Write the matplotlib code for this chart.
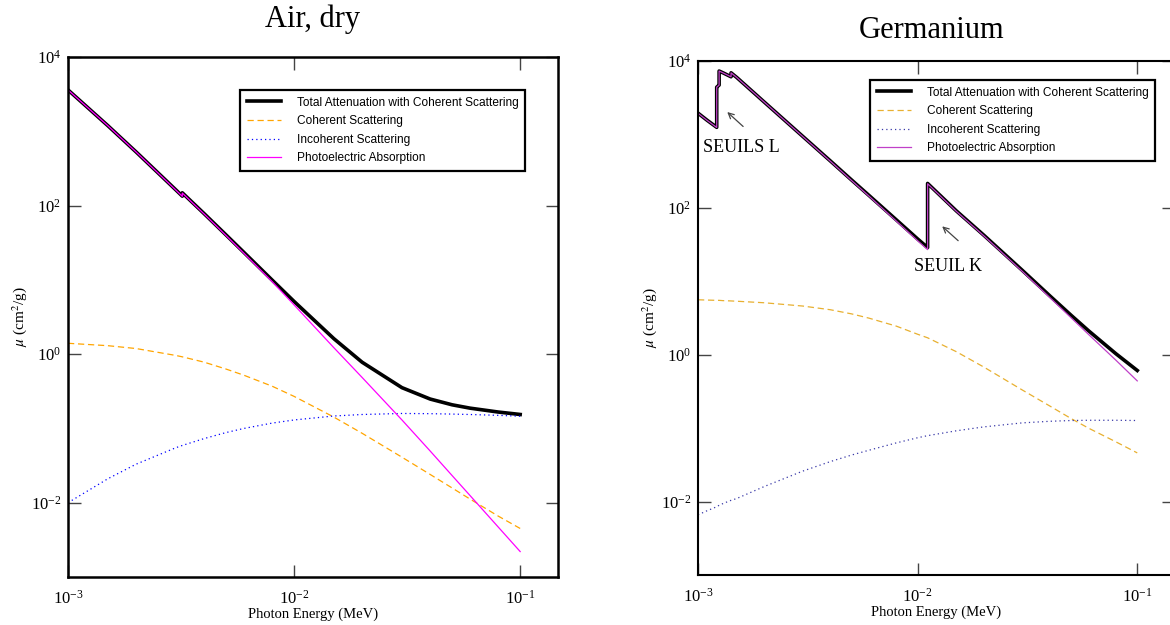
import numpy as np
import matplotlib
matplotlib.use('Agg')
from matplotlib import pyplot as plt
from matplotlib.ticker import NullLocator

# ---- Air, dry (cm2/g) ----
air_e = [1.0e-3, 1.5e-3, 2.0e-3, 3.0e-3, 3.2029e-3, 3.2029e-3, 4.0e-3, 5.0e-3, 6.0e-3, 8.0e-3,
         1.0e-2, 1.5e-2, 2.0e-2, 3.0e-2, 4.0e-2, 5.0e-2, 6.0e-2, 8.0e-2, 1.0e-1]
air_total = [3606, 1191, 527.9, 162.5, 134.0, 148.5, 77.88, 40.27, 23.41, 9.921,
             5.120, 1.614, 0.7779, 0.3538, 0.2485, 0.2080, 0.1875, 0.1662, 0.1541]
air_coh = [1.40, 1.30, 1.19, 0.96, 0.92, 0.92, 0.78, 0.63, 0.52, 0.37,
           0.27, 0.142, 0.086, 0.041, 0.024, 0.0158, 0.0112, 0.0066, 0.0045]
air_incoh = [0.0100, 0.021, 0.033, 0.055, 0.059, 0.059, 0.073, 0.088, 0.100, 0.118,
             0.130, 0.147, 0.154, 0.159, 0.158, 0.156, 0.154, 0.150, 0.146]
air_photo = [3605, 1190, 526.7, 161.5, 133.0, 147.5, 77.05, 39.57, 22.8, 9.46,
             4.60, 1.22, 0.485, 0.130, 0.0496, 0.0232, 0.0125, 0.0047, 0.0022]

# ---- Germanium (cm2/g) ----
ge_e = [1.0e-3, 1.1e-3, 1.2167e-3, 1.2167e-3, 1.232e-3, 1.2478e-3, 1.2478e-3, 1.3e-3,
        1.4143e-3, 1.4143e-3, 1.5e-3, 2.0e-3, 3.0e-3, 4.0e-3, 5.0e-3, 6.0e-3, 8.0e-3,
        1.0e-2, 1.1103e-2, 1.1103e-2, 1.5e-2, 2.0e-2, 3.0e-2, 4.0e-2, 5.0e-2, 6.0e-2,
        8.0e-2, 1.0e-1]
ge_total = [1950, 1560, 1250, 4400, 4550, 4700, 7300, 6900, 6100, 6900, 5980, 2770,
            940, 437, 240, 148, 68.6, 37.7, 28.8, 215, 91, 42.5, 14.05, 6.33, 3.44, 2.12,
            1.03, 0.61]
ge_coh = [5.6, 5.55, 5.5, 5.5, 5.5, 5.5, 5.5, 5.45, 5.4, 5.4, 5.35, 5.1, 4.6, 4.1, 3.6,
          3.15, 2.45, 1.9, 1.7, 1.7, 1.1, 0.68, 0.33, 0.2, 0.135, 0.1, 0.065, 0.046]
ge_incoh = [0.0066, 0.0075, 0.0085, 0.0085, 0.0087, 0.0089, 0.0089, 0.0094, 0.0104,
            0.0104, 0.011, 0.016, 0.026, 0.035, 0.043, 0.050, 0.063, 0.074, 0.079, 0.079,
            0.092, 0.104, 0.118, 0.124, 0.127, 0.128, 0.128, 0.127]
ge_photo = [1944, 1554, 1244, 4394, 4544, 4694, 7294, 6894, 6094, 6894, 5975, 2765,
            935, 433, 236, 144.7, 66, 35.7, 27.0, 213, 89.8, 41.7, 13.6, 6.0, 3.18,
            1.89, 0.84, 0.44]

labels = ['Total Attenuation with Coherent Scattering', 'Coherent Scattering',
          'Incoherent Scattering', 'Photoelectric Absorption']

plt.rcParams['font.family'] = 'Liberation Serif'
plt.rcParams['mathtext.fontset'] = 'stix'

W, H = 1170, 625
fig = plt.figure(figsize=(W / 100, H / 100), dpi=100)


def panel(rect, e, total, coh, incoh, photo, colors, title, title_xy, legend_xy, spw):
    ax = fig.add_axes([rect[0] / W, 1 - rect[3] / H, (rect[2] - rect[0]) / W, (rect[3] - rect[1]) / H])
    ax.plot(e, total, color='black', lw=2.6, label=labels[0])
    ax.plot(e, coh, color=colors[0], lw=0.9, dashes=(5, 3), label=labels[1])
    ax.plot(e, incoh, color=colors[1], lw=0.9, dashes=(1, 2.5), label=labels[2])
    ax.plot(e, photo, color=colors[2], lw=0.9, label=labels[3])
    ax.set_xscale('log')
    ax.set_yscale('log')
    ax.set_xlim(1e-3, 0.147)
    ax.set_ylim(1e-3, 1e4)
    ax.set_xticks([1e-3, 1e-2, 1e-1])
    ax.set_yticks([1e-2, 1, 1e2, 1e4])
    ax.xaxis.set_minor_locator(NullLocator())
    ax.yaxis.set_minor_locator(NullLocator())
    ax.tick_params(direction='in', length=9, width=1, color='#444444', top=True, right=True,
                   labelsize=12)
    ax.tick_params(axis='x', pad=9)
    ax.tick_params(axis='y', pad=5)
    for s in ax.spines.values():
        s.set_linewidth(spw)
    ax.set_xlabel('Photon Energy (MeV)', fontsize=10.5, labelpad=0)
    ax.set_ylabel(r'$\mu$ (cm$^2$/g)', fontsize=11, labelpad=1)
    leg = ax.legend(loc='upper left', bbox_to_anchor=(legend_xy[0] / W, 1 - legend_xy[1] / H),
                    bbox_transform=fig.transFigure, prop={'family': 'Liberation Sans', 'size': 8.6},
                    fancybox=False, framealpha=1, edgecolor='black', handlelength=2.9,
                    borderpad=0.55, labelspacing=0.55, handletextpad=1.3, borderaxespad=0)
    leg.get_frame().set_linewidth(1.6)
    fig.text(title_xy[0] / W, 1 - title_xy[1] / H, title, fontsize=22, ha='center', va='center')
    return ax


panel((68, 57, 558, 577), air_e, air_total, air_coh, air_incoh, air_photo,
      ['#FFA500', '#0000FF', '#FF00FF'], 'Air, dry', (313, 19), (240, 90), 1.8)

ax2 = panel((698, 61, 1174, 575), ge_e, ge_total, ge_coh, ge_incoh, ge_photo,
            ['#E8B030', '#3838A8', '#C040C8'], 'Germanium', (932, 30), (870, 80), 1.5)

ax2.annotate('', xy=(1.33e-3, 2140), xytext=(1.64e-3, 1210),
             arrowprops=dict(arrowstyle='->', color='#444444', lw=0.9))
ax2.text(1.58e-3, 667, 'SEUILS L', fontsize=13, ha='center', va='center')
ax2.annotate('', xy=(0.01266, 59.4), xytext=(0.01563, 33.7),
             arrowprops=dict(arrowstyle='->', color='#444444', lw=0.9))
ax2.text(0.0138, 15.9, 'SEUIL K', fontsize=13, ha='center', va='center')

fig.savefig('out.png', dpi=100)
